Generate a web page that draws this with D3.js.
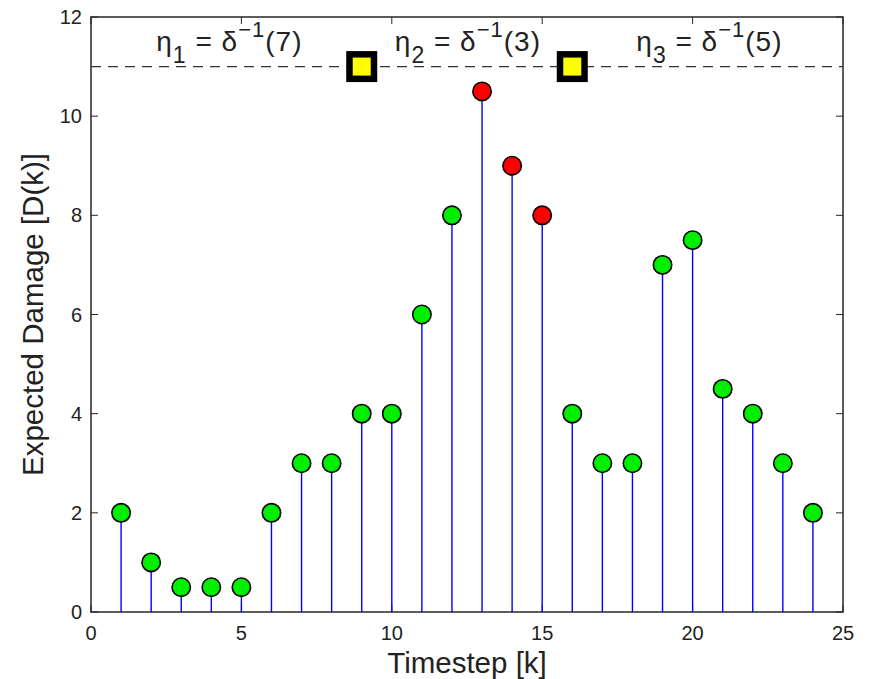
<!DOCTYPE html>
<html>
<head>
<meta charset="utf-8">
<script src="https://cdn.jsdelivr.net/npm/d3@7"></script>
<style>
  body { margin: 0; background: #fff; }
  text { font-family: "Liberation Sans", Arial, sans-serif; }
</style>
</head>
<body>
<svg id="chart"></svg>
<script>
// data
const timesteps = [1, 2, 3, 4, 5, 6, 7, 8, 9, 10, 11, 12, 13, 14, 15, 16, 17, 18, 19, 20, 21, 22, 23, 24];
const damage = [2, 1, 0.5, 0.5, 0.5, 2, 3, 3, 4, 4, 6, 8, 10.5, 9, 8, 4, 3, 3, 7, 7.5, 4.5, 4, 3, 2];
const critical = [13, 14, 15];
const threshold = 11;
const switchPoints = [9, 16];
const etaLabels = [
  { sub: "1", arg: "(7)", x: 4.6 },
  { sub: "2", arg: "(3)", x: 12.53 },
  { sub: "3", arg: "(5)", x: 20.56 }
];
const xTicks = [0, 5, 10, 15, 20, 25];
const yTicks = [0, 2, 4, 6, 8, 10, 12];

const W = 871, H = 679;
const margin = { left: 91, right: 28, top: 17, bottom: 67 };

const svg = d3.select("#chart").attr("width", W).attr("height", H);

const x = d3.scaleLinear().domain([0, 25]).range([margin.left, W - margin.right]);
const y = d3.scaleLinear().domain([0, 12]).range([H - margin.bottom, margin.top]);

// frame
svg.append("rect")
  .attr("x", x(0)).attr("y", y(12))
  .attr("width", x(25) - x(0)).attr("height", y(0) - y(12))
  .attr("fill", "none").attr("stroke", "#262626").attr("stroke-width", 1.5);

// ticks, inward on all four sides
const tickLen = 7;
const axisColor = "#262626";
const g = svg.append("g");
g.selectAll(".xtb").data(xTicks).enter().append("line")
  .attr("x1", d => x(d)).attr("x2", d => x(d))
  .attr("y1", y(0)).attr("y2", y(0) - tickLen)
  .attr("stroke", axisColor);
g.selectAll(".xtt").data(xTicks).enter().append("line")
  .attr("x1", d => x(d)).attr("x2", d => x(d))
  .attr("y1", y(12)).attr("y2", y(12) + tickLen)
  .attr("stroke", axisColor);
g.selectAll(".ytl").data(yTicks).enter().append("line")
  .attr("x1", x(0)).attr("x2", x(0) + tickLen)
  .attr("y1", d => y(d)).attr("y2", d => y(d))
  .attr("stroke", axisColor);
g.selectAll(".ytr").data(yTicks).enter().append("line")
  .attr("x1", x(25)).attr("x2", x(25) - tickLen)
  .attr("y1", d => y(d)).attr("y2", d => y(d))
  .attr("stroke", axisColor);

// tick labels
g.selectAll(".xl").data(xTicks).enter().append("text")
  .attr("x", d => x(d)).attr("y", y(0) + 28)
  .attr("text-anchor", "middle").attr("font-size", 20).attr("fill", "#222")
  .text(d => d);
g.selectAll(".yl").data(yTicks).enter().append("text")
  .attr("x", x(0) - 9).attr("y", d => y(d) + 7)
  .attr("text-anchor", "end").attr("font-size", 20).attr("fill", "#222")
  .text(d => d);

// axis titles
svg.append("text")
  .attr("x", (x(0) + x(25)) / 2).attr("y", 673)
  .attr("text-anchor", "middle").attr("font-size", 29.5).attr("fill", "#222")
  .text("Timestep [k]");
svg.append("text")
  .attr("transform", `translate(43,${(y(0) + y(12)) / 2}) rotate(-90)`)
  .attr("text-anchor", "middle").attr("font-size", 29.5).attr("fill", "#222")
  .text("Expected Damage [D(k)]");

// threshold dashed line
svg.append("line")
  .attr("x1", x(0)).attr("x2", x(25))
  .attr("y1", y(threshold)).attr("y2", y(threshold))
  .attr("stroke", "#333").attr("stroke-width", 1.2)
  .attr("stroke-dasharray", "10,7");

// stems
const pts = timesteps.map((t, i) => ({ t, v: damage[i], red: critical.includes(t) }));
svg.append("g").selectAll("line").data(pts).enter().append("line")
  .attr("x1", d => x(d.t)).attr("x2", d => x(d.t))
  .attr("y1", y(0)).attr("y2", d => y(d.v))
  .attr("stroke", "#0000ff").attr("stroke-width", 1.4);

// markers
svg.append("g").selectAll("circle").data(pts).enter().append("circle")
  .attr("cx", d => x(d.t)).attr("cy", d => y(d.v)).attr("r", 9.2)
  .attr("fill", d => d.red ? "#ff0000" : "#00ee00")
  .attr("stroke", "#000").attr("stroke-width", 1.6);

// switch squares
svg.append("g").selectAll("rect").data(switchPoints).enter().append("rect")
  .attr("x", d => x(d) - 12.25).attr("y", y(threshold) - 12.25)
  .attr("width", 24.5).attr("height", 24.5)
  .attr("fill", "#ffff00").attr("stroke", "#000").attr("stroke-width", 6.5);

// eta labels
const lab = svg.append("g").selectAll("text").data(etaLabels).enter().append("text")
  .attr("x", d => x(d.x)).attr("y", 51)
  .attr("text-anchor", "middle").attr("font-size", 28).attr("fill", "#222")
  .attr("letter-spacing", 1);
lab.append("tspan").text("η");
lab.append("tspan").attr("dy", 12).attr("font-size", 23).text(d => d.sub);
lab.append("tspan").attr("dy", -12).text(" = δ");
lab.append("tspan").attr("dy", -14).attr("font-size", 22).text("−1");
lab.append("tspan").attr("dy", 14).text(d => d.arg);
</script>
</body>
</html>
